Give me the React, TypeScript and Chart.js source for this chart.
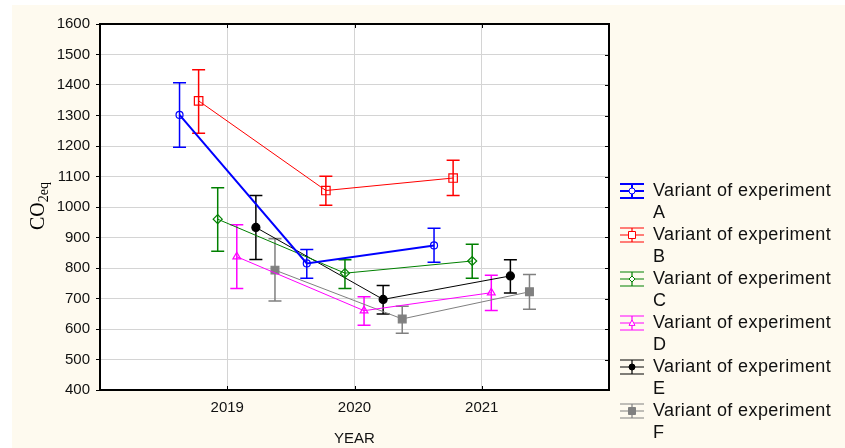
import React, { useEffect, useRef } from "react";
import { Chart, registerables } from "chart.js";

Chart.register(...registerables);

const years = [2019, 2020, 2021];
const seriesNames = ["Variant of experiment A", "Variant of experiment B", "Variant of experiment C", "Variant of experiment D", "Variant of experiment E", "Variant of experiment F"];
const legendLine1 = "Variant of experiment";
const legendLine2 = ["A", "B", "C", "D", "E", "F"];

const aMean = [1302, 815, 874];
const aLo = [1196, 766, 819];
const aHi = [1407, 861, 930];
const bMean = [1348, 1054, 1095];
const bLo = [1242, 1006, 1038];
const bHi = [1450, 1101, 1153];
const cMean = [960, 783, 823];
const cLo = [855, 733, 766];
const cHi = [1063, 827, 878];
const dMean = [837, 660, 719];
const dLo = [733, 612, 661];
const dHi = [942, 706, 776];
const eMean = [933, 697, 774];
const eLo = [828, 649, 718];
const eHi = [1038, 743, 827];
const fMean = [793, 633, 722];
const fLo = [692, 586, 665];
const fHi = [896, 675, 779];

const yTicks = [400, 500, 600, 700, 800, 900, 1000, 1100, 1200, 1300, 1400, 1500, 1600];

const SANS = "Arial, 'Liberation Sans', sans-serif";
const SERIF = "'Times New Roman', 'Liberation Serif', serif";

const styles = [
  { color: "#0000ff", point: "circle", fill: "rgba(0,0,0,0)", radius: 3.5, width: 2, off: -0.375 },
  { color: "#ff0000", point: "rect", fill: "rgba(0,0,0,0)", radius: 6, width: 1, off: -0.225 },
  { color: "#008000", point: "rectRot", fill: "rgba(0,0,0,0)", radius: 4.5, width: 1, off: -0.075 },
  { color: "#ff00ff", point: "triangle", fill: "rgba(0,0,0,0)", radius: 4.5, width: 1, off: 0.075 },
  { color: "#000000", point: "circle", fill: "#000000", radius: 4, width: 1, off: 0.225 },
  { color: "#808080", point: "rect", fill: "#808080", radius: 5.5, width: 1, off: 0.375 },
];

const means = [aMean, bMean, cMean, dMean, eMean, fMean];
const lows = [aLo, bLo, cLo, dLo, eLo, fLo];
const highs = [aHi, bHi, cHi, dHi, eHi, fHi];

function drawMarker(ctx: CanvasRenderingContext2D, kind: string, x: number, y: number, r: number, color: string, fill: string) {
  ctx.save();
  ctx.strokeStyle = color;
  ctx.lineWidth = 1;
  ctx.fillStyle = fill;
  ctx.beginPath();
  if (kind === "circle") {
    ctx.arc(x, y, r, 0, Math.PI * 2);
  } else if (kind === "rect") {
    ctx.rect(x - r, y - r, 2 * r, 2 * r);
  } else if (kind === "rectRot") {
    ctx.moveTo(x, y - r);
    ctx.lineTo(x + r, y);
    ctx.lineTo(x, y + r);
    ctx.lineTo(x - r, y);
    ctx.closePath();
  } else {
    ctx.moveTo(x, y - r);
    ctx.lineTo(x + r, y + r * 0.8);
    ctx.lineTo(x - r, y + r * 0.8);
    ctx.closePath();
  }
  if (fill !== "rgba(0,0,0,0)") ctx.fill();
  ctx.stroke();
  ctx.restore();
}

const bgPlugin = {
  id: "bg",
  beforeDraw(chart: any) {
    const { ctx, chartArea: ca, width, height } = chart;
    ctx.save();
    ctx.fillStyle = "#ffffff";
    ctx.fillRect(0, 0, width, height);
    ctx.fillStyle = "#fefaef";
    ctx.fillRect(12, 5, width - 12, height - 5);
    ctx.fillStyle = "#ffffff";
    ctx.fillRect(ca.left, ca.top, ca.right - ca.left, ca.bottom - ca.top);
    ctx.restore();
  },
};

const errPlugin = {
  id: "errbars",
  beforeDatasetsDraw(chart: any) {
    const { ctx } = chart;
    const xs = chart.scales.x;
    const ys = chart.scales.y;
    ctx.save();
    chart.data.datasets.forEach((ds: any, i: number) => {
      const st = styles[i];
      ctx.strokeStyle = st.color;
      ctx.lineWidth = 1.5;
      ds.data.forEach((p: any, j: number) => {
        const x = xs.getPixelForValue(p.x);
        const yl = ys.getPixelForValue(lows[i][j]);
        const yh = ys.getPixelForValue(highs[i][j]);
        ctx.beginPath();
        ctx.moveTo(x, yl);
        ctx.lineTo(x, yh);
        ctx.moveTo(x - 6.5, yl);
        ctx.lineTo(x + 6.5, yl);
        ctx.moveTo(x - 6.5, yh);
        ctx.lineTo(x + 6.5, yh);
        ctx.stroke();
      });
    });
    ctx.restore();
  },
};

const framePlugin = {
  id: "frame",
  afterDraw(chart: any) {
    const { ctx, chartArea: ca } = chart;
    const xs = chart.scales.x;
    const ys = chart.scales.y;
    ctx.save();
    ctx.strokeStyle = "#000";
    ctx.lineWidth = 1;
    ctx.beginPath();
    yTicks.forEach((v) => {
      const y = Math.round(ys.getPixelForValue(v)) + 0.5;
      ctx.moveTo(ca.right - 4, y);
      ctx.lineTo(ca.right, y);
    });
    years.forEach((v) => {
      const x = Math.round(xs.getPixelForValue(v)) + 0.5;
      ctx.moveTo(x, ca.top);
      ctx.lineTo(x, ca.top + 4);
      ctx.moveTo(x, ca.bottom);
      ctx.lineTo(x, ca.bottom - 4);
    });
    ctx.stroke();
    ctx.lineWidth = 2;
    ctx.strokeRect(ca.left, ca.top, ca.right - ca.left, ca.bottom - ca.top);

    // y axis title with subscript
    ctx.save();
    ctx.translate(37, 206);
    ctx.rotate(-Math.PI / 2);
    ctx.fillStyle = "#000";
    ctx.textBaseline = "alphabetic";
    ctx.font = `20px ${SERIF}`;
    const w1 = ctx.measureText("CO").width;
    ctx.font = `14px ${SERIF}`;
    const w2 = ctx.measureText("2eq").width;
    const start = -(w1 + w2) / 2;
    ctx.font = `20px ${SERIF}`;
    ctx.fillText("CO", start, 7);
    ctx.font = `14px ${SERIF}`;
    ctx.fillText("2eq", start + w1, 11);
    ctx.restore();

    // legend
    const lx = 632;
    const tx = 653;
    ctx.textBaseline = "middle";
    ctx.textAlign = "left";
    styles.forEach((st, i) => {
      const cy = 191 + 44 * i;
      ctx.strokeStyle = st.color;
      ctx.lineWidth = i === 0 ? 2 : 1.2;
      ctx.beginPath();
      ctx.moveTo(lx - 12, cy);
      ctx.lineTo(lx + 12, cy);
      ctx.moveTo(lx - 12, cy - 7);
      ctx.lineTo(lx + 12, cy - 7);
      ctx.moveTo(lx - 12, cy + 7);
      ctx.lineTo(lx + 12, cy + 7);
      ctx.moveTo(lx, cy - 7);
      ctx.lineTo(lx, cy + 7);
      ctx.stroke();
      const mfill = st.fill === "rgba(0,0,0,0)" ? "#ffffff" : st.fill;
      const mr = st.point === "rect" ? 3.5 : 3;
      drawMarker(ctx, st.point, lx, cy, mr, st.color, mfill);
      ctx.fillStyle = "#111";
      ctx.font = `18px ${SANS}`;
      try { (ctx as any).letterSpacing = "0.4px"; } catch (e) {}
      ctx.fillText(legendLine1, tx, cy);
      ctx.fillText(legendLine2[i], tx, cy + 22);
      try { (ctx as any).letterSpacing = "0px"; } catch (e) {}
    });
    ctx.restore();
  },
};

export default function App() {
  const ref = useRef<HTMLCanvasElement | null>(null);
  useEffect(() => {
    if (!ref.current) return;
    const datasets = styles.map((st, i) => ({
      label: seriesNames[i],
      data: years.map((yr, j) => ({ x: yr + st.off, y: means[i][j] })),
      borderColor: st.color,
      backgroundColor: st.fill,
      borderWidth: st.width,
      pointStyle: st.point,
      pointRadius: st.radius,
      pointBorderColor: st.color,
      pointBackgroundColor: st.fill,
      pointBorderWidth: 1.2,
      showLine: true,
      fill: false,
      tension: 0,
    }));
    const chart = new Chart(ref.current, {
      type: "line",
      data: { datasets },
      plugins: [bgPlugin, errPlugin, framePlugin],
      options: {
        animation: false,
        responsive: false,
        maintainAspectRatio: false,
        layout: { padding: { left: 0, top: 24, right: 236, bottom: 0 } },
        plugins: { legend: { display: false }, tooltip: { enabled: false }, title: { display: false } },
        scales: {
          x: {
            type: "linear",
            min: 2018,
            max: 2022,
            ticks: {
              stepSize: 1,
              autoSkip: false,
              padding: 9,
              color: "#111",
              font: { family: SANS, size: 15 },
              callback: (v: any) => (v >= 2019 && v <= 2021 ? String(v) : ""),
            },
            grid: { color: "#d4d4d4", lineWidth: 1, drawTicks: false },
            border: { display: false },
            title: { display: true, text: "YEAR", color: "#111", font: { family: SANS, size: 15 }, padding: { top: 7, bottom: 0 } },
            afterFit: (s: any) => { s.height = 58; },
          },
          y: {
            min: 400,
            max: 1600,
            ticks: { stepSize: 100, padding: 6, color: "#111", font: { family: SANS, size: 15 }, callback: (v: any) => String(v) },
            grid: { color: "#d4d4d4", lineWidth: 1, tickColor: "#000", tickLength: 4 },
            border: { display: false },
            afterFit: (s: any) => { s.width = 100; },
          },
        },
      } as any,
    });
    return () => chart.destroy();
  }, []);
  return (
    <div style={{ position: "absolute", left: 0, top: 0, width: 845, height: 448 }}>
      <canvas ref={ref} width={845} height={448} style={{ width: 845, height: 448, display: "block" }} />
    </div>
  );
}
